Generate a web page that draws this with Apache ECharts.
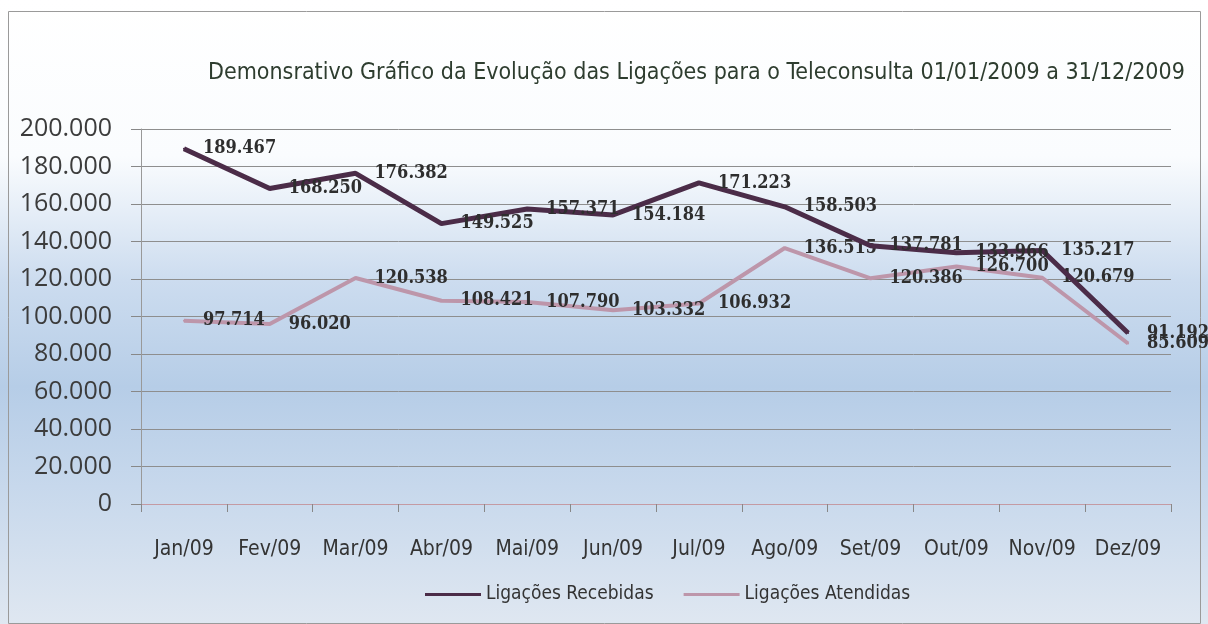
<!DOCTYPE html>
<html>
<head>
	<meta charset="utf-8" />
	<title>Teleconsulta 2009</title>
	<style type="text/css">
	*{margin: 0;padding: 0;}
	html,body{background:#fff;}
	#chart{width: 1208px;height: 624px;}
	</style>
</head>
<body>
<div id="chart"></div>
<script src="https://cdn.jsdelivr.net/npm/echarts@6/dist/echarts.min.js"></script>
<script type="text/javascript">
	// dados
	var meses = ['Jan/09','Fev/09','Mar/09','Abr/09','Mai/09','Jun/09','Jul/09','Ago/09','Set/09','Out/09','Nov/09','Dez/09'];
	var recebidas = [189467, 168250, 176382, 149525, 157371, 154184, 171223, 158503, 137781, 133966, 135217, 91192];
	var atendidas = [97714, 96020, 120538, 108421, 107790, 103332, 106932, 136515, 120386, 126700, 120679, 85609];
	var nomes = ['Ligações Recebidas', 'Ligações Atendidas'];
	var titulo = 'Demonsrativo Gráfico da Evolução das Ligações para o Teleconsulta 01/01/2009 a 31/12/2009';

	// separador de milhar com ponto
	function fmt(v) {
		var s = String(Math.round(v));
		return s.replace(/\B(?=(\d{3})+(?!\d))/g, '.');
	}

	var corRec = '#4b2c48', corAte = '#bd96aa';
	var fonteCond = '"DejaVu Sans Condensed", "DejaVu Sans", sans-serif';

	var labelCfg = {
		show: true,
		position: 'right',
		distance: 18,
		fontFamily: '"DejaVu Serif Condensed", "DejaVu Serif", serif',
		fontWeight: 'bold',
		fontSize: 18,
		color: '#2e2e2e',
		formatter: function (p) { return fmt(p.value); }
	};

	var opt = {
		backgroundColor: {
			type: 'linear', x: 0, y: 0, x2: 0, y2: 1,
			colorStops: [
				{offset: 0, color: '#ffffff'},
				{offset: 0.25, color: '#fafcfe'},
				{offset: 0.45, color: '#ccdcef'},
				{offset: 0.62, color: '#b6cde7'},
				{offset: 0.78, color: '#c7d8ec'},
				{offset: 1, color: '#dfe7f1'}
			]
		},
		animation: false,
		title: {
			text: titulo,
			left: 203,
			top: 57,
			textStyle: {
				fontFamily: fonteCond,
				fontWeight: 'normal',
				fontSize: 23,
				color: '#2e3d2f'
			}
		},
		legend: {
			data: nomes,
			bottom: 15,
			left: 420,
			icon: 'rect',
			itemWidth: 56,
			itemHeight: 3,
			itemGap: 30,
			textStyle: {fontFamily: fonteCond, fontSize: 19, color: '#333'}
		},
		grid: {left: 141, right: 37, top: 129, bottom: 120},
		xAxis: {
			type: 'category',
			data: meses,
			boundaryGap: true,
			axisLine: {lineStyle: {color: '#c49aa3', width: 1}},
			axisTick: {show: true, length: 8, lineStyle: {color: '#888'}},
			axisLabel: {
				interval: 0,
				hideOverlap: false,
				margin: 35,
				fontFamily: fonteCond,
				fontSize: 21,
				color: '#343434'
			}
		},
		yAxis: {
			type: 'value',
			min: 0,
			max: 200000,
			interval: 20000,
			axisLine: {show: true, lineStyle: {color: '#999'}},
			axisTick: {show: true, length: 10, lineStyle: {color: '#888'}},
			axisLabel: {
				margin: 29,
				fontFamily: '"Open Sans", sans-serif',
				fontSize: 25,
				color: '#3c3c3c',
				formatter: function (v) { return fmt(v); }
			},
			splitLine: {lineStyle: {color: '#8e8e8e', width: 1}}
		},
		graphic: [{
			type: 'rect',
			shape: {x: 8.5, y: 11.5, width: 1192, height: 612},
			style: {fill: null, stroke: '#9a9a9a', lineWidth: 1},
			silent: true
		}],
		series: [
			{
				name: nomes[0],
				type: 'line',
				data: recebidas,
				symbol: 'circle',
				symbolSize: 2,
				color: corRec,
				lineStyle: {color: corRec, width: 5},
				label: labelCfg,
				z: 3
			},
			{
				name: nomes[1],
				type: 'line',
				data: atendidas,
				symbol: 'circle',
				symbolSize: 2,
				color: corAte,
				lineStyle: {color: corAte, width: 4},
				label: labelCfg,
				z: 2
			}
		]
	};

	var chart = echarts.init(document.getElementById('chart'));
	chart.setOption(opt);
</script>
</body>
</html>
